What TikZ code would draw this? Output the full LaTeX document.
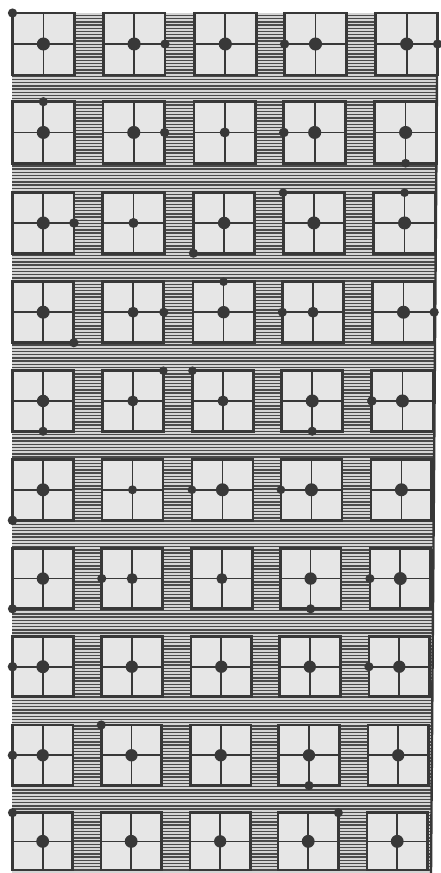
\documentclass[tikz,border=0pt]{standalone}
\definecolor{ink}{HTML}{383838}
\definecolor{pane}{HTML}{E6E6E6}
\definecolor{wallbg}{HTML}{D4D4D4}
\definecolor{hatchc}{HTML}{4A4A4A}
\newcommand\facaderow[3]{%
  \pgfmathsetmacro\rowsc{1+0.000028*(480-(#1+#2/2))}%
  \begin{scope}[xshift=12pt,xscale=\rowsc,xshift=-12pt]
    \foreach \cx in {12.5,102,192,281,371}{%
      \draw[frame] (\cx,#1) rectangle ++(61,#2);
      \draw[mull] (\cx+30.5,#1) -- ++(0,#2);
      \draw[mull] (\cx,#1+#2/2) -- ++(61,0);
    }
    \foreach \ci/\fx/\fy/\rr in {#3}{%
      \pgfmathsetmacro\cx{{12.5,102,192,281,371}[\ci]}%
      \fill[knob] (\cx+61*\fx,#1+#2*\fy) circle[radius=\rr];
    }
  \end{scope}}
\begin{document}
\begin{tikzpicture}[x=1pt,y=-1pt,
  frame/.style={draw=ink,line width=2.8pt,fill=pane},
  mull/.style={draw=ink,line width=1.7pt},
  knob/.style={fill=ink}]
\useasboundingbox (0,0) rectangle (441,873);
\fill[white] (0,0) rectangle (441,873);
\begin{scope}
  \clip (12,13) -- (437.5,13) -- (431,873) -- (12,873) -- cycle;
  \fill[wallbg] (0,0) rectangle (441,873);
  \foreach \yy in {15.5,18.7,...,873} \draw[hatchc,line width=1.45pt] (0,\yy) -- (441,\yy);
\end{scope}
\draw[ink,line width=2.4pt] (437.5,13) -- (431,873);
\facaderow{13}{62}{0/.5/.5/6.5, 0/0/0/4.6, 1/.5/.5/6.5, 1/1/.5/4.6, 2/.5/.5/6.5, 3/.5/.5/6.5, 3/0/.5/4.6, 4/.5/.5/6.5, 4/1/.5/4.6}
\facaderow{101.7}{61.5}{0/.5/.5/6.5, 0/.5/0/4.6, 1/.5/.5/6.5, 1/1/.5/4.6, 2/.5/.5/5, 3/.5/.5/6.5, 3/0/.5/4.8, 4/.5/.5/6.5, 4/.5/1/4.4}
\facaderow{192.7}{60.5}{0/.5/.5/6.5, 0/1/.5/4.8, 1/.5/.5/5, 2/.5/.5/6.2, 2/0/1/4.6, 3/.5/.5/6.5, 3/0/0/4.3, 4/.5/.5/6.5, 4/.5/0/4.3}
\facaderow{281.7}{61}{0/.5/.5/6.5, 0/1/1/4.6, 1/.5/.5/5.5, 1/1/.5/4.6, 2/.5/.5/6.2, 2/.5/0/4.3, 3/.5/.5/5.5, 3/0/.5/4.6, 4/.5/.5/6.5, 4/1/.5/4.6}
\facaderow{370.7}{60.5}{0/.5/.5/6.2, 0/.5/1/4.6, 1/.5/.5/5.5, 1/1/0/4.3, 2/.5/.5/5.5, 2/0/0/4.3, 3/.5/.5/6.5, 3/.5/1/4.6, 4/.5/.5/6.5, 4/0/.5/4.8}
\facaderow{459.3}{61}{0/.5/.5/6.5, 0/0/1/4.8, 1/.5/.5/4.5, 2/.5/.5/6.5, 2/0/.5/4.3, 3/.5/.5/6.5, 3/0/.5/4.3, 4/.5/.5/6.5}
\facaderow{548.3}{60.5}{0/.5/.5/6.2, 0/0/1/4.6, 1/.5/.5/5.5, 1/0/.5/4.6, 2/.5/.5/5.5, 3/.5/.5/6.2, 3/.5/1/4.6, 4/.5/.5/6.5, 4/0/.5/4.6}
\facaderow{636.7}{60}{0/.5/.5/6.5, 0/0/.5/4.8, 1/.5/.5/6.2, 2/.5/.5/6.2, 3/.5/.5/6.2, 4/.5/.5/6.2, 4/0/.5/4.6}
\facaderow{725}{60.5}{0/.5/.5/6.2, 0/0/.5/4.8, 1/.5/.5/6.2, 1/0/0/4.6, 2/.5/.5/6.2, 3/.5/.5/6.2, 3/.5/1/4.6, 4/.5/.5/6.2}
\facaderow{812.7}{57.3}{0/.5/.5/6.5, 0/0/0/4.6, 1/.5/.5/6.5, 2/.5/.5/6.2, 3/.5/.5/6.5, 3/1/0/4.6, 4/.5/.5/6.5}
\end{tikzpicture}
\end{document}
